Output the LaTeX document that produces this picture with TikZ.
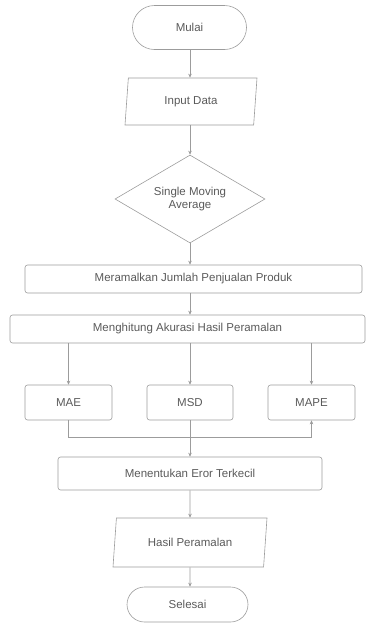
\documentclass[tikz,border=0pt]{standalone}
\usepackage{fontspec}
\setmainfont{Liberation Sans}
\usetikzlibrary{shapes.geometric,shapes.misc,arrows.meta}
\definecolor{garis}{HTML}{9C9C9C}
\definecolor{teks}{HTML}{5A5A5A}

\begin{document}
\begin{tikzpicture}[x=1pt, y=-1pt,
    font=\fontsize{11.5}{13}\selectfont, text=teks,
    every node/.style={draw=garis, line width=0.6pt, inner sep=0pt},
    terminal/.style={rounded rectangle},
    kotak/.style={rectangle, rounded corners=2.5pt},
    io/.style={trapezium, trapezium stretches body},
    pilih/.style={diamond, aspect=1.7, align=center},
    panah/.style={draw=garis, line width=0.6pt, -{Stealth[length=4pt, width=3.5pt]}}]
    \useasboundingbox (0,0) rectangle (366,630);
    \node[terminal, minimum width=114pt, minimum height=44pt] (mulai) at (189.5,27.5) {Mulai};
    \node[io, trapezium left angle=72, trapezium right angle=108, minimum width=132pt, minimum height=47pt] (input) at (191,101.5) {Input Data};
    \node[pilih, minimum width=150pt, minimum height=88pt] (sma) at (190,199) {Single Moving\\Average};
    \node[kotak, minimum width=337pt, minimum height=28pt] (ramal) at (193.5,279) {Meramalkan Jumlah Penjualan Produk};
    \node[kotak, minimum width=355pt, minimum height=28pt] (hitung) at (187.5,329) {Menghitung Akurasi Hasil Peramalan};
    \node[kotak, minimum width=87pt, minimum height=35pt] (mae) at (68.5,402.5) {MAE};
    \node[kotak, minimum width=86pt, minimum height=35pt] (msd) at (190,402.5) {MSD};
    \node[kotak, minimum width=87pt, minimum height=35pt] (mape) at (311.5,402.5) {MAPE};
    \node[kotak, minimum width=264pt, minimum height=33pt] (tentu) at (190,473.5) {Menentukan Eror Terkecil};
    \node[io, trapezium left angle=68, trapezium right angle=112, minimum width=154pt, minimum height=49pt] (hasil) at (190,542.5) {Hasil Peramalan};
    \node[terminal, minimum width=121pt, minimum height=35pt] (selesai) at (187.5,604.5) {Selesai};
    \path[panah] (mulai.south -| 190,0) -- (input.north -| 190,0);
    \path[panah] (input.south -| 190,0) -- (sma.north);
    \path[panah] (sma.south) -- (ramal.north -| 190,0);
    \path[panah] (ramal.south -| 190,0) -- (hitung.north -| 190,0);
    \path[panah] (hitung.south -| mae) -- (mae.north);
    \path[panah] (hitung.south -| msd) -- (msd.north);
    \path[panah] (hitung.south -| mape) -- (mape.north);
    \path[panah] (mae.south) -- ++(0,17) -| (mape.south);
    \path[panah] (msd.south) -- (tentu.north);
    \path[panah] (tentu.south) -- (hasil.north);
    \path[panah] (hasil.south) -- (selesai.north -| 190,0);
  \end{tikzpicture}
\end{document}
